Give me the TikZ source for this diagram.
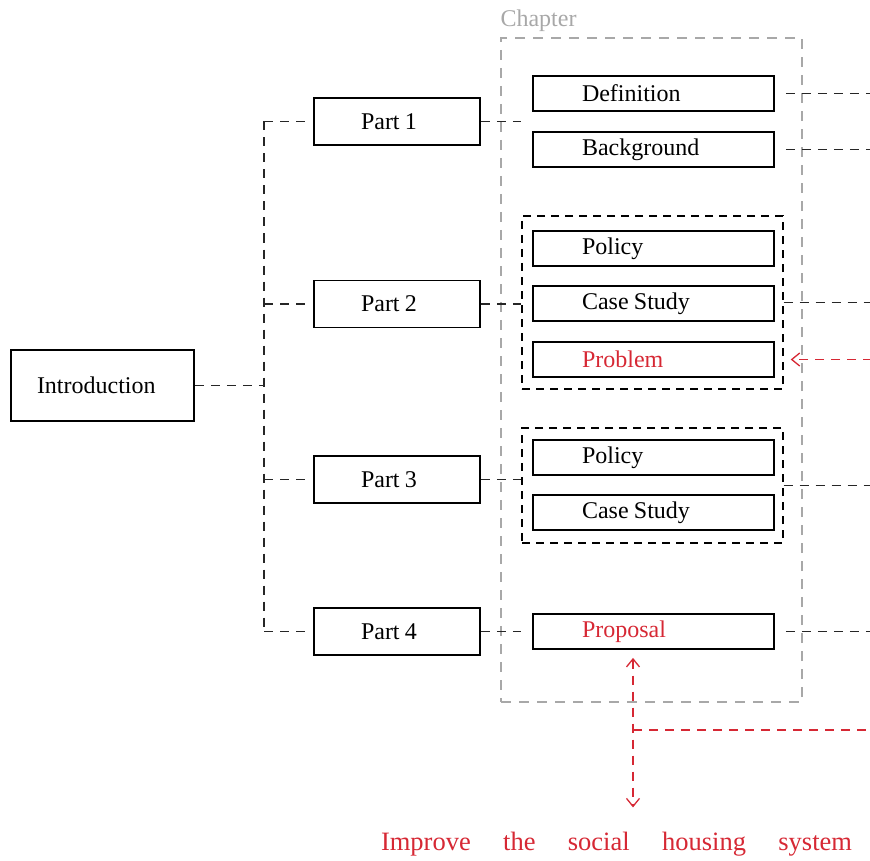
\documentclass[tikz,border=0pt]{standalone}
\usepackage{fontspec}
\setmainfont{Liberation Serif}
\usetikzlibrary{arrows.meta}
\definecolor{accent}{RGB}{214,40,52}
\definecolor{frame}{RGB}{168,168,168}
\begin{document}
\begin{tikzpicture}[x=1pt,y=-1pt,
  box/.style={draw, line width=1.8pt, inner ysep=0pt, align=left,
    font=\fontsize{24}{28}\selectfont,
    execute at begin node={\spaceskip=0.22em plus 0.05em minus 0.05em\relax}},
  introbox/.style={box, minimum height=71pt, text width=131pt, inner xsep=26pt},
  partbox/.style={box, minimum height=47pt, text width=72pt, inner xsep=47pt},
  itembox/.style={box, minimum height=35pt, text width=143pt, inner xsep=49pt},
  groupbox/.style={draw, line width=1.4pt, dash pattern=on 8pt off 6pt, minimum width=261pt, inner sep=0pt},
  chapbox/.style={draw=frame, line width=1.3pt, dash pattern=on 10pt off 8pt, minimum width=301pt, minimum height=664pt, inner sep=0pt},
  link/.style={line width=1.4pt, dash pattern=on 9pt off 7pt, black!85},
  alertlink/.style={line width=1.4pt, dash pattern=on 9pt off 7pt, accent},
  barb/.tip={Straight Barb[length=8pt, width=13pt, line width=1.3pt]}
]
\useasboundingbox (0,0) rectangle (870,861);
\clip (0,0) rectangle (870,861);

% left side: introduction and parts
\node[introbox] (intro) at (102.5,385.5) {Introduction};
\node[partbox] (p1) at (397,121.5) {Part 1};
\node[partbox] (p2) at (397,304) {Part 2};
\node[partbox] (p3) at (397,479.5) {Part 3};
\node[partbox] (p4) at (397,631.5) {Part 4};

% chapter frame and its label
\node[chapbox] (chapter) at (651.5,370) {};
\node[anchor=base west, inner sep=0pt, text=frame, font=\fontsize{24}{28}\selectfont]
  (chaplabel) at ([yshift=11pt]chapter.north west) {Chapter};

% chapter items
\node[itembox] (def)  at (653.5,93.5)  {Definition};
\node[itembox] (bg)   at (653.5,149.5) {Background};
\node[groupbox, minimum height=173pt] (g1) at (652.5,302.5) {};
\node[itembox] (pol1) at (653.5,248.5) {Policy};
\node[itembox] (cs1)  at (653.5,303.5) {Case Study};
\node[itembox, text=accent] (prob) at (653.5,359.5) {Problem};
\node[groupbox, minimum height=115pt] (g2) at (652.5,485.5) {};
\node[itembox] (pol2) at (653.5,457.5) {Policy};
\node[itembox] (cs2)  at (653.5,512.5) {Case Study};
\node[itembox, text=accent] (prop) at (653.5,631.5) {Proposal};

% goal
\node[anchor=base, inner sep=0pt, text=accent, font=\fontsize{26.5}{31}\selectfont]
  (goal) at (616.5,850) {\makebox[471pt][s]{Improve the social housing system}};

% helper coordinates
\coordinate (trunk) at (264,0);
\coordinate (rim) at (872,0);
\coordinate (fork) at (633,730);

% tree from the introduction to the parts
\draw[link] (intro.east) -- (intro.east -| trunk);
\draw[link] (p1.west -| trunk) -- (p4.west -| trunk);
\foreach \p in {p1,p2,p3,p4}
  \draw[link] (\p.west -| trunk) -- ([xshift=-8pt]\p.west);

% parts to chapter contents
\draw[link] (p1.east) -- (p1.east -| g1.west);
\draw[link] (p2.east) -- (p2.east -| g1.west);
\draw[link] (p3.east) -- (p3.east -| g2.west);
\draw[link] (p4.east) -- (p4.east -| g2.west);

% chapter contents to the right
\foreach \n in {def,bg,prop}
  \draw[link] ([xshift=11pt]\n.east) -- (\n.east -| rim);
\draw[link] (g1.east) -- (g1.east -| rim);
\draw[link] (g2.east) -- (g2.east -| rim);

% red links
\draw[alertlink, -barb] (prob.east -| rim) -- ([xshift=7pt]g1.east |- prob.east);
\draw[alertlink, barb-barb] ([yshift=-8pt]prop.south -| fork) -- ([yshift=24pt]goal.north -| fork);
\draw[alertlink] (fork) -- (fork -| rim);
\end{tikzpicture}
\end{document}
